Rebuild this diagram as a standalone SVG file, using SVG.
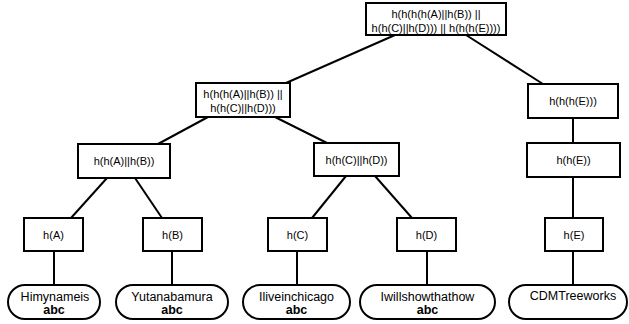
<svg xmlns="http://www.w3.org/2000/svg" width="629" height="324" viewBox="0 0 629 324">
<style>
.box{fill:#fff;stroke:#000;stroke-width:2}
.edge{stroke:#000;stroke-width:2;fill:none}
text{font-family:"Liberation Sans",Arial,sans-serif;font-size:11px;text-anchor:middle;fill:#000}
.leaf text{font-size:12.5px}
.b{font-weight:bold}
</style>
<rect width="629" height="324" fill="#fff"/>
<g id="connectors">
<line class="edge" x1="395" y1="35" x2="286" y2="83"/>
<line class="edge" x1="466" y1="35" x2="543" y2="84"/>
<line class="edge" x1="208" y1="117" x2="158" y2="144"/>
<line class="edge" x1="275" y1="117" x2="327" y2="143"/>
<line class="edge" x1="107" y1="178" x2="71" y2="218"/>
<line class="edge" x1="135" y1="178" x2="162" y2="218"/>
<line class="edge" x1="346" y1="176" x2="312" y2="218"/>
<line class="edge" x1="375" y1="176" x2="412" y2="218"/>
<line class="edge" x1="573" y1="118" x2="573" y2="143"/>
<line class="edge" x1="573" y1="177" x2="573" y2="218"/>
<line class="edge" x1="54" y1="251" x2="54" y2="285"/>
<line class="edge" x1="172" y1="251" x2="172" y2="285"/>
<line class="edge" x1="297" y1="251" x2="297" y2="285"/>
<line class="edge" x1="427" y1="251" x2="427" y2="285"/>
<line class="edge" x1="573" y1="251" x2="573" y2="285"/>
</g>
<g id="root">
<rect class="box" x="366" y="3" width="140" height="32"/>
<text x="436" y="18">h(h(h(h(A)||h(B)) ||</text>
<text x="436" y="32">h(h(C)||h(D))) || h(h(h(E))))</text>
</g>
<g id="hABCD">
<rect class="box" x="196" y="83" width="94" height="34"/>
<text x="243" y="98">h(h(h(A)||h(B)) ||</text>
<text x="243" y="112">h(h(C)||h(D)))</text>
</g>
<g id="hhhE">
<rect class="box" x="528" y="84" width="90" height="34"/>
<text x="573" y="105">h(h(h(E)))</text>
</g>
<g id="hAB">
<rect class="box" x="78" y="144" width="92" height="34"/>
<text x="124" y="165">h(h(A)||h(B))</text>
</g>
<g id="hCD">
<rect class="box" x="314" y="143" width="85" height="33"/>
<text x="356.5" y="164">h(h(C)||h(D))</text>
</g>
<g id="hhE">
<rect class="box" x="527" y="143" width="93" height="34"/>
<text x="573.5" y="164">h(h(E))</text>
</g>
<g id="hA">
<rect class="box" x="24" y="218" width="59" height="33"/>
<text x="53.5" y="239">h(A)</text>
</g>
<g id="hB">
<rect class="box" x="143" y="218" width="59" height="33"/>
<text x="172.5" y="239">h(B)</text>
</g>
<g id="hC">
<rect class="box" x="268" y="218" width="59" height="33"/>
<text x="297.5" y="239">h(C)</text>
</g>
<g id="hD">
<rect class="box" x="397" y="218" width="59" height="33"/>
<text x="426.5" y="239">h(D)</text>
</g>
<g id="hE">
<rect class="box" x="545" y="218" width="58" height="33"/>
<text x="574" y="239">h(E)</text>
</g>
<g id="leafA" class="leaf">
<rect class="box" x="8" y="285" width="92" height="34" rx="17" ry="17"/>
<text x="55" y="301">Himynameis</text>
<text class="b" x="54" y="314">abc</text>
</g>
<g id="leafB" class="leaf">
<rect class="box" x="116" y="285" width="112" height="34" rx="17" ry="17"/>
<text x="172" y="301">Yutanabamura</text>
<text class="b" x="172" y="314">abc</text>
</g>
<g id="leafC" class="leaf">
<rect class="box" x="243" y="285" width="107" height="34" rx="17" ry="17"/>
<text x="296.5" y="301">Iliveinchicago</text>
<text class="b" x="296.5" y="314">abc</text>
</g>
<g id="leafD" class="leaf">
<rect class="box" x="360" y="285" width="135" height="34" rx="17" ry="17"/>
<text x="427.5" y="301">Iwillshowthathow</text>
<text class="b" x="427.5" y="314">abc</text>
</g>
<g id="leafE" class="leaf">
<rect class="box" x="509" y="285" width="118" height="34" rx="17" ry="17"/>
<text x="573" y="300">CDMTreeworks</text>
</g>
</svg>
